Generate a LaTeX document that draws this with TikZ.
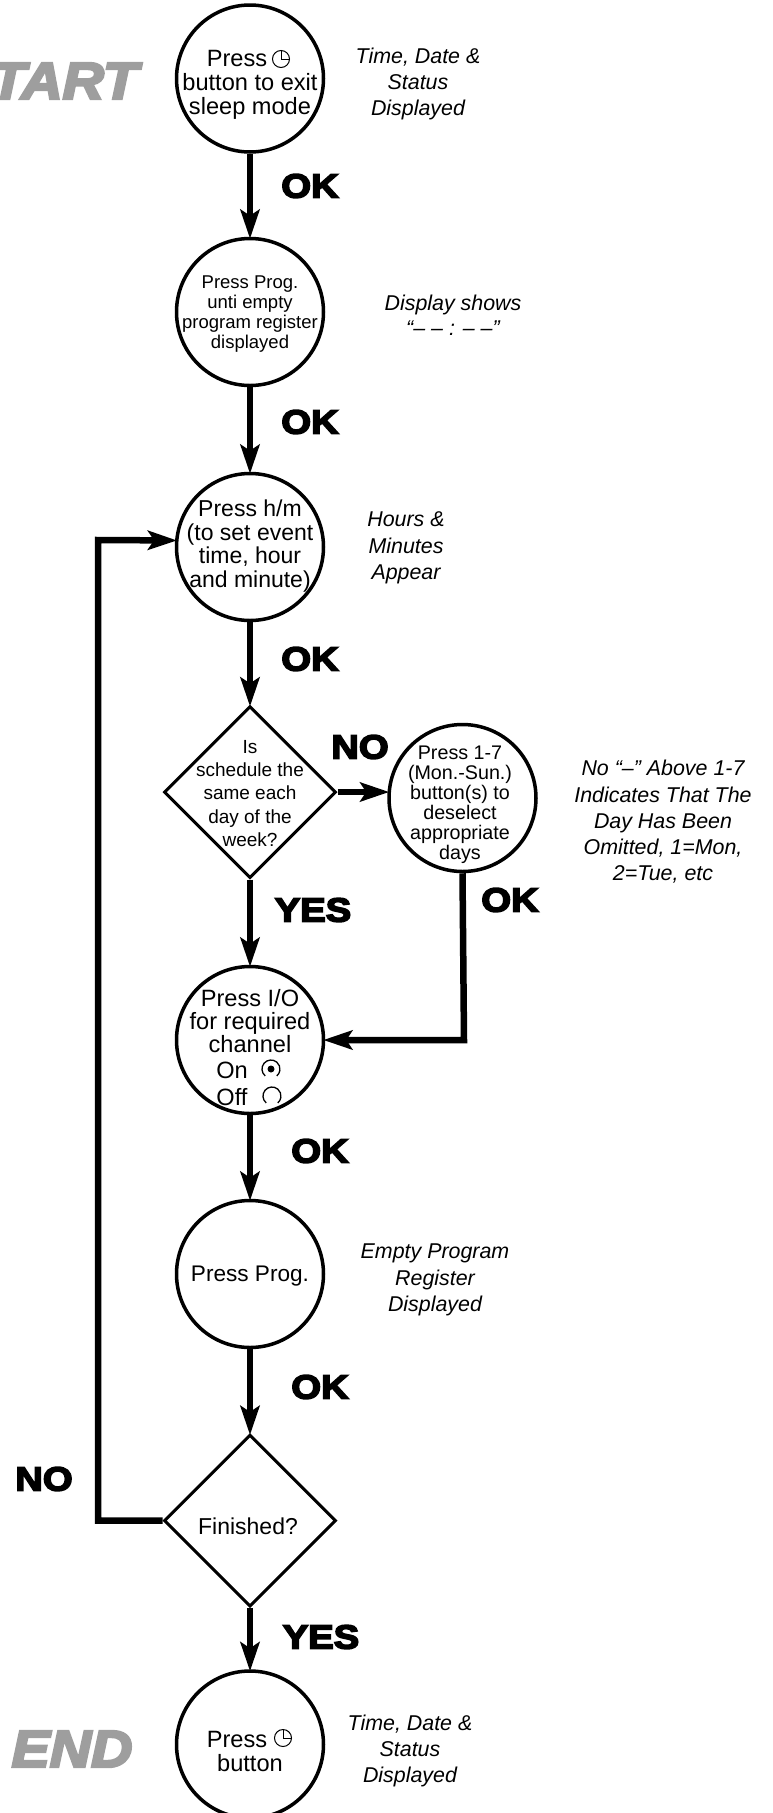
\documentclass[tikz,border=0pt]{standalone}
\usepackage{fontspec}
\setmainfont{Liberation Sans}
\newfontfamily\heavy[BoldFeatures={FakeBold=5,FakeStretch=1.14}]{Liberation Sans}
\newfontfamily\heavyit[BoldItalicFeatures={FakeBold=5,FakeStretch=1.1}]{Liberation Sans}
\usetikzlibrary{arrows.meta,shapes.geometric}
\tikzset{
  x=1pt,y=-1pt,
  stepcircle/.style={circle,draw=black,line width=3.5pt,fill=white,inner sep=0pt,minimum size=147pt},
  decision/.style={diamond,aspect=1,draw=black,line width=3pt,fill=white,inner sep=0pt,minimum size=172pt},
  flow/.style={line width=6.5pt,shorten >=-2pt,-{Stealth[length=29pt,width=19pt,inset=6pt]}},
  txt/.style={align=center,inner sep=0pt,text=black},
  big/.style={txt,font=\fontsize{23.6}{24}\selectfont},
  side/.style={txt,font=\fontsize{21.4}{26.3}\selectfont\itshape},
  ok/.style={txt,font=\heavy\bfseries\fontsize{33.5}{36}\selectfont},
  gray/.style={txt,text=black!38,font=\heavyit\bfseries\itshape\fontsize{52}{56}\selectfont},
  glyph/.style={line width=1pt,draw=black}
}
\begin{document}
\begin{tikzpicture}
\useasboundingbox (0,0) rectangle (772,1813);
% shapes
\node[stepcircle] (c1) at (250,78.5) {};
\node[stepcircle] (c2) at (250,312) {};
\node[stepcircle] (c3) at (250,547) {};
\node[decision] (d1) at (250,792) {};
\node[stepcircle] (c4) at (462.5,798) {};
\node[stepcircle] (c5) at (250,1040) {};
\node[stepcircle] (c6) at (250,1274) {};
\node[decision] (d2) at (250,1520.5) {};
\node[stepcircle] (c7) at (250,1744.5) {};
\coordinate (elbow) at (98,1520.5);
\coordinate (loop) at (98,540);
\coordinate (turn) at (464,1040);
% connectors
\draw[flow] (c1) -- (c2);
\draw[flow] (c2) -- (c3);
\draw[flow] (c3) -- (d1);
\draw[flow] (d1) -- (d1.east -| c4.west);
\draw[flow] (d1) -- (c5);
\draw[flow] (c5) -- (c6);
\draw[flow] (c6) -- (d2);
\draw[flow] (d2) -- (c7);
\draw[flow,line join=miter] (c4.south) -- (turn) -- (c5.east);
\draw[flow,line join=miter] (d2.west) -- (elbow) -- (loop) -- (c3.175);
% step texts
\node[big] (t1) at (250,84.5) {Press\hspace*{26pt}\\button to exit\\sleep mode};
\node[txt,font=\fontsize{18.5}{20}\selectfont] (t2) at (250,314) {Press Prog.\\unti empty\\program register\\displayed};
\node[big,font=\fontsize{23}{23.5}\selectfont] (t3) at (250,546) {Press h/m\\(to set event\\time, hour\\and minute)};
\node[txt,font=\fontsize{19}{23.3}\selectfont] (t4) at (250,793.5) {Is\\schedule the\\same each\\day of the\\week?};
\node[txt,font=\fontsize{19.7}{20}\selectfont] (t5) at (460,805) {Press 1-7\\(Mon.-Sun.)\\button(s) to\\deselect\\appropriate\\days};
\node[big,font=\fontsize{23.6}{23}\selectfont] (t6) at (250,1021) {Press I/O\\for required\\channel};
\node[big] (ton) at (232,1070) {On};
\node[big] (toff) at (232,1097) {Off};
\node[big,font=\fontsize{22.6}{24}\selectfont] (t7) at (250,1276) {Press Prog.};
\node[big,font=\fontsize{23}{24}\selectfont] (t8) at (248,1526) {Finished?};
\node[big] (t9) at (250,1751) {Press\hspace*{26pt}\\button};
% glyphs
\draw[glyph] (281,59) circle (8.5);
\draw[glyph] (281,50.5) -- (281,59) -- (289.5,59);
\draw[glyph] (283,1738) circle (8.5);
\draw[glyph] (283,1729.5) -- (283,1738) -- (291.5,1738);
\draw[glyph,line width=1.3pt] (271,1069) ++(130:9) arc (130:410:9);
\fill (271,1069) circle (3.5);
\draw[glyph,line width=1.3pt] (272,1096) ++(130:9) arc (130:410:9);
% side texts
\node[side] (s1) at (418,84) {Time, Date \&\\Status\\Displayed};
\node[side,font=\fontsize{21.4}{24.5}\selectfont\itshape] (s2) at (453,315) {Display shows\\“– – : – –”};
\node[side] (s3) at (406,548) {Hours \&\\Minutes\\Appear};
\node[side] (s4) at (663,822) {No “–” Above 1-7\\Indicates That The\\Day Has Been\\Omitted, 1=Mon,\\2=Tue, etc};
\node[side] (s5) at (435,1280) {Empty Program\\Register\\Displayed};
\node[side] (s6) at (410,1751) {Time, Date \&\\Status\\Displayed};
% big labels
\node[ok] (l1) at (310,186) {OK};
\node[ok] (l2) at (310,422) {OK};
\node[ok] (l3) at (310,659) {OK};
\node[ok] (l4) at (360,747) {NO};
\node[ok] (l5) at (313,910) {YES};
\node[ok] (l6) at (510,900) {OK};
\node[ok] (l7) at (320,1151) {OK};
\node[ok] (l8) at (320,1387) {OK};
\node[ok] (l9) at (44,1479) {NO};
\node[ok] (l10) at (321,1637) {YES};
\node[gray,anchor=east] (g1) at (138,81) {START};
\node[gray] (g2) at (72,1749) {END};
\end{tikzpicture}
\end{document}
